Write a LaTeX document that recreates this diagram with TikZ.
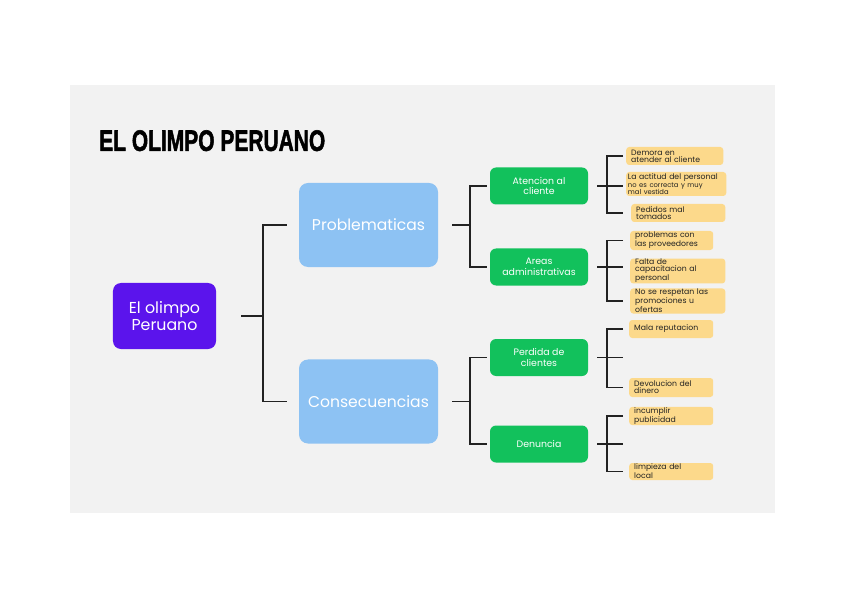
\documentclass[tikz,border=0pt]{standalone}
\usepackage{fontspec}
\usepackage{graphicx}
\setmainfont{Poppins}
\newfontfamily\titlefont[FakeBold=2]{Liberation Sans Bold}

\definecolor{bgray}{HTML}{F2F2F2}
\definecolor{rootviolet}{HTML}{5B14EC}
\definecolor{topicblue}{HTML}{8DC2F3}
\definecolor{subgreen}{HTML}{12C15C}
\definecolor{leafyellow}{HTML}{FCD98B}
\definecolor{linegray}{HTML}{222222}

\begin{document}
\begin{tikzpicture}[x=0.03cm,y=-0.03cm,
  rootbox/.style={fill=rootviolet,text=white,rounded corners=.24cm,minimum width=3.09cm,minimum height=1.98cm,align=center,font=\fontsize{13.5}{14}\selectfont},
  topicbox/.style={fill=topicblue,text=white,rounded corners=.27cm,minimum width=4.17cm,minimum height=2.52cm,font=\fontsize{13.3}{15}\selectfont},
  subbox/.style={fill=subgreen,text=white,rounded corners=.18cm,minimum width=2.94cm,minimum height=1.11cm,align=center,font=\fontsize{8}{9}\selectfont},
  leafbox/.style={fill=leafyellow,text=linegray,rounded corners=.09cm,inner xsep=.15cm,inner ysep=.5pt,align=left,anchor=west,font=\fontsize{6.6}{6}\selectfont},
  conn/.style={draw=linegray,line width=.9pt}]
\useasboundingbox (0,0) rectangle (848,599);
\fill[white] (0,0) rectangle (848,599);
\fill[bgray] (70,85) rectangle (775,513);

\node[anchor=north west,inner sep=0] (title) at (99,130) {\resizebox{6.78cm}{.62cm}{\titlefont EL OLIMPO PERUANO}};

\node[rootbox] (root) at (164.5,316) {El olimpo\\Peruano};
\node[topicbox] (prob) at (368.5,225) {Problematicas};
\node[topicbox] (cons) at (368.5,401.5) {Consecuencias};

\node[subbox] (aten) at (539,186) {Atencion al\\cliente};
\node[subbox] (areas) at (539,267) {Areas\\administrativas};
\node[subbox] (perd) at (539,357.5) {Perdida de\\clientes};
\node[subbox] (denu) at (539,444) {Denuncia};

% leaves
\node[leafbox,text width=2.61cm,minimum height=.54cm] (demora) at (626,156) {Demora en\\atender al cliente};
\node[leafbox,inner xsep=.05cm,text width=2.9cm,minimum height=.72cm] (actitud) at (626,184) {La actitud del personal\\{\fontsize{5.8}{5.6}\selectfont no es correcta y muy\\mal vestida}};
\node[leafbox,text width=2.52cm,minimum height=.54cm] (pedidos) at (631,213) {Pedidos mal\\tomados};
\node[leafbox,text width=2.19cm,minimum height=.57cm] (provee) at (630,240.5) {problemas con\\las proveedores};
\node[leafbox,text width=2.55cm,minimum height=.66cm] (falta) at (630,271) {Falta de\\capacitacion al\\personal};
\node[leafbox,text width=2.55cm,minimum height=.66cm] (promo) at (630,301) {No se respetan las\\promociones u\\ofertas};
\node[leafbox,text width=2.22cm,minimum height=.54cm] (mala) at (629,329) {Mala reputacion};
\node[leafbox,text width=2.22cm,minimum height=.57cm] (devol) at (629,387.5) {Devolucion del\\dinero};
\node[leafbox,text width=2.22cm,minimum height=.54cm] (incump) at (629,416) {incumplir\\publicidad};
\node[leafbox,text width=2.22cm,minimum height=.51cm] (limp) at (629,471.5) {limpieza del\\local};

\coordinate (barA) at (263,0);
\coordinate (barB) at (470,0);
\coordinate (barC) at (607,0);
\coordinate (tipC) at (623,0);

\draw[conn,shorten <=.75cm] (root) -- (root -| barA);
\draw[conn,shorten <=.36cm,shorten >=.36cm] (prob.west) -| (barA |- cons) -- (cons.west);

\draw[conn,shorten <=.42cm] (prob) -- (prob -| barB);
\draw[conn,shorten <=.09cm,shorten >=.09cm] (aten.west) -| (barB |- areas) -- (areas.west);
\draw[conn,shorten <=.42cm] (cons) -- (cons -| barB);
\draw[conn,shorten <=.09cm,shorten >=.09cm] (perd.west) -| (barB |- denu) -- (denu.west);

\draw[conn,shorten <=.27cm] (aten) -- (aten -| tipC);
\draw[conn] (tipC |- demora) -| (barC |- pedidos) -- (tipC |- pedidos);
\draw[conn,shorten <=.27cm] (areas) -- (areas -| tipC);
\draw[conn] (tipC |- provee) -| (barC |- promo) -- (tipC |- promo);
\draw[conn,shorten <=.27cm] (perd) -- (perd -| tipC);
\draw[conn] (tipC |- mala) -| (barC |- devol) -- (tipC |- devol);
\draw[conn,shorten <=.27cm] (denu) -- (denu -| tipC);
\draw[conn] (tipC |- incump) -| (barC |- limp) -- (tipC |- limp);
\end{tikzpicture}
\end{document}
